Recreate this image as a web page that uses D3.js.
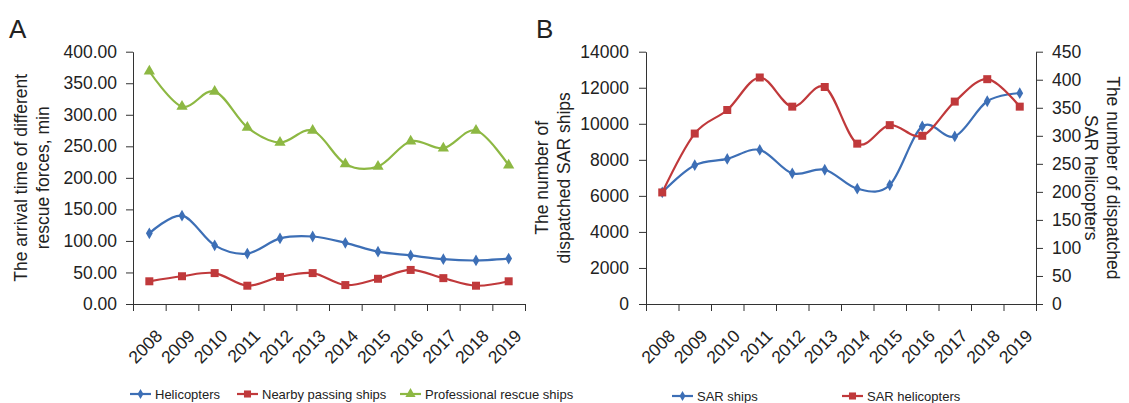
<!DOCTYPE html>
<html>
<head>
<meta charset="utf-8">
<script src="https://cdn.jsdelivr.net/npm/d3@7"></script>
<style>
  body { margin: 0; background: #fff; }
  svg { display: block; font-family: "Liberation Sans", Arial, sans-serif; }
</style>
</head>
<body>
<div id="chart"></div>
<script>
// categories
var years = ["2008", "2009", "2010", "2011", "2012", "2013", "2014", "2015", "2016", "2017", "2018", "2019"];

// panel A - arrival time (min)
var helicopters    = [112, 140, 93, 80, 104, 107, 97, 83, 77, 71, 69, 72];
var nearbyShips    = [36, 44, 49, 29, 43, 49, 30, 40, 54, 41, 29, 36];
var rescueShips    = [369, 313, 337, 280, 256, 275, 222, 218, 258, 247, 275, 220];
var aTicks         = [0, 50, 100, 150, 200, 250, 300, 350, 400];

// panel B - dispatched numbers
var sarShips       = [6200, 7700, 8050, 8550, 7250, 7450, 6400, 6600, 9850, 9300, 11250, 11700];
var sarHelicopters = [199, 304, 346, 404, 352, 387, 286, 319, 300, 361, 401, 352];
var bLeftTicks     = [0, 2000, 4000, 6000, 8000, 10000, 12000, 14000];
var bRightTicks    = [0, 50, 100, 150, 200, 250, 300, 350, 400, 450];

var colors = {blue: "#3d6fb6", red: "#c0393b", green: "#8db843"};
var axisColor = "#333";
var textColor = "#222";

var svg = d3.select("#chart").append("svg")
    .attr("width", 1129)
    .attr("height", 403);

var plotTop = 51.7, plotBottom = 304;

function drawXAxis(g, x0, x1) {
    var idx = d3.scaleLinear().domain([0, years.length]).range([x0, x1]);
    var band = d3.scaleBand().domain(years).range([x0, x1]);

    g.append("g")
        .attr("transform", "translate(0," + plotBottom + ")")
        .call(d3.axisBottom(idx).tickValues(d3.range(years.length + 1)).tickFormat("").tickSize(7).tickSizeOuter(0))
        .call(function(a){ a.selectAll("path, line").attr("stroke", axisColor); });

    g.selectAll(null)
        .data(years)
        .enter().append("text")
        .attr("transform", function(d){ return "translate(" + (band(d) + band.bandwidth()/2 + 14) + "," + (plotBottom + 33) + ") rotate(-45)"; })
        .attr("text-anchor", "end")
        .attr("fill", textColor)
        .style("font-size", "17.5px")
        .text(function(d){ return d; });

    return band;
}

function styleY(a) {
    a.selectAll("path, line").attr("stroke", axisColor);
    a.selectAll("text").attr("fill", textColor).style("font-size", "17.5px").attr("font-family", null);
}

function drawSeries(g, band, y, values, color, symbol, size) {
    var line = d3.line()
        .x(function(d, i){ return band(years[i]) + band.bandwidth()/2; })
        .y(function(d){ return y(d); })
        .curve(d3.curveCatmullRom.alpha(0));

    g.append("path")
        .datum(values)
        .attr("d", line)
        .attr("fill", "none")
        .attr("stroke", color)
        .attr("stroke-width", 2.2);

    g.selectAll(null)
        .data(values)
        .enter().append("path")
        .attr("d", d3.symbol().type(symbol).size(size))
        .attr("transform", function(d, i){ return "translate(" + (band(years[i]) + band.bandwidth()/2) + "," + y(d) + ")"; })
        .attr("fill", color);
}

function legendItem(g, x, y, color, symbol, size, label) {
    g.append("line")
        .attr("x1", x).attr("x2", x + 21)
        .attr("y1", y).attr("y2", y)
        .attr("stroke", color).attr("stroke-width", 2.2);
    g.append("path")
        .attr("d", d3.symbol().type(symbol).size(size))
        .attr("transform", "translate(" + (x + 10.5) + "," + y + ")")
        .attr("fill", color);
    g.append("text")
        .attr("x", x + 25).attr("y", y)
        .attr("dy", "0.35em")
        .attr("fill", textColor)
        .style("font-size", "13px")
        .text(label);
}

// ---------- Panel A ----------
var gA = svg.append("g");
var ax0 = 133, ax1 = 525;

gA.append("text").attr("x", 9).attr("y", 38).style("font-size", "26px").attr("fill", textColor).text("A");

var yA = d3.scaleLinear().domain([0, 400]).range([plotBottom, plotTop]);
gA.append("g")
    .attr("transform", "translate(" + ax0 + ",0)")
    .call(d3.axisLeft(yA).tickValues(aTicks).tickFormat(d3.format(".2f")).tickSize(7).tickSizeOuter(0).tickPadding(9))
    .call(styleY);

var bandA = drawXAxis(gA, ax0, ax1);

var aTitle = gA.append("text")
    .attr("transform", "translate(21," + (plotTop + plotBottom)/2 + ") rotate(-90)")
    .attr("text-anchor", "middle")
    .attr("fill", textColor)
    .style("font-size", "17.5px");
aTitle.append("tspan").attr("x", 0).attr("dy", "0.35em").text("The arrival time of different");
aTitle.append("tspan").attr("x", 0).attr("dy", "1.25em").text("rescue forces, min");

drawSeries(gA, bandA, yA, rescueShips, colors.green, d3.symbolTriangle, 55);
drawSeries(gA, bandA, yA, helicopters, colors.blue, d3.symbolDiamond, 40);
drawSeries(gA, bandA, yA, nearbyShips, colors.red, d3.symbolSquare, 64);

legendItem(gA, 130, 394, colors.blue, d3.symbolDiamond, 30, "Helicopters");
legendItem(gA, 237, 394, colors.red, d3.symbolSquare, 50, "Nearby passing ships");
legendItem(gA, 400, 394, colors.green, d3.symbolTriangle, 45, "Professional rescue ships");

// ---------- Panel B ----------
var gB = svg.append("g");
var bx0 = 646, bx1 = 1036;

gB.append("text").attr("x", 536).attr("y", 38).style("font-size", "26px").attr("fill", textColor).text("B");

var yBL = d3.scaleLinear().domain([0, 14000]).range([plotBottom, plotTop]);
var yBR = d3.scaleLinear().domain([0, 450]).range([plotBottom, plotTop]);

gB.append("g")
    .attr("transform", "translate(" + bx0 + ",0)")
    .call(d3.axisLeft(yBL).tickValues(bLeftTicks).tickFormat(d3.format("d")).tickSize(7).tickSizeOuter(0).tickPadding(10))
    .call(styleY);

gB.append("g")
    .attr("transform", "translate(" + bx1 + ",0)")
    .call(d3.axisRight(yBR).tickValues(bRightTicks).tickFormat(d3.format("d")).tickSize(7).tickSizeOuter(0).tickPadding(9))
    .call(styleY);

var bandB = drawXAxis(gB, bx0, bx1);

var bTitleL = gB.append("text")
    .attr("transform", "translate(542," + (plotTop + plotBottom)/2 + ") rotate(-90)")
    .attr("text-anchor", "middle")
    .attr("fill", textColor)
    .style("font-size", "17.5px");
bTitleL.append("tspan").attr("x", 0).attr("dy", "0.35em").text("The number of");
bTitleL.append("tspan").attr("x", 0).attr("dy", "1.25em").text("dispatched SAR ships");

var bTitleR = gB.append("text")
    .attr("transform", "translate(1113," + (plotTop + plotBottom)/2 + ") rotate(90)")
    .attr("text-anchor", "middle")
    .attr("fill", textColor)
    .style("font-size", "17.5px");
bTitleR.append("tspan").attr("x", 0).attr("dy", "0.35em").text("The number of dispatched");
bTitleR.append("tspan").attr("x", 0).attr("dy", "1.25em").text("SAR helicopters");

drawSeries(gB, bandB, yBL, sarShips, colors.blue, d3.symbolDiamond, 40);
drawSeries(gB, bandB, yBR, sarHelicopters, colors.red, d3.symbolSquare, 64);

legendItem(gB, 672, 396, colors.blue, d3.symbolDiamond, 30, "SAR ships");
legendItem(gB, 842, 396, colors.red, d3.symbolSquare, 50, "SAR helicopters");
</script>
</body>
</html>
